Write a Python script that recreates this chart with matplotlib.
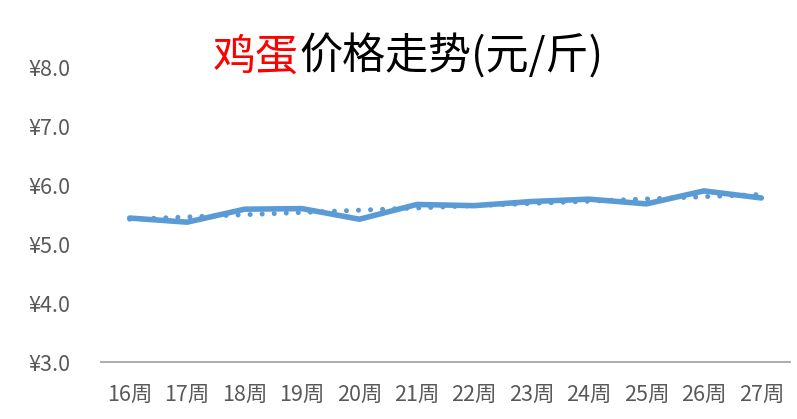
import matplotlib
matplotlib.use('Agg')
import matplotlib.pyplot as plt
from matplotlib import ticker

plt.rcParams['font.family'] = ['Noto Sans CJK SC', 'DejaVu Sans']

weeks = ['16周', '17周', '18周', '19周', '20周', '21周',
         '22周', '23周', '24周', '25周', '26周', '27周']
price = [5.44, 5.37, 5.59, 5.60, 5.42, 5.67, 5.65, 5.72, 5.76, 5.68, 5.90, 5.78]
# linear trendline, start / end values
trend = [5.42, 5.84]

blue = '#5B9BD5'
grey = '#595959'

fig = plt.figure(figsize=(7.97, 4.19), dpi=100)
ax = fig.add_axes([101 / 797, 1 - 362 / 419, 689 / 797, 295 / 419])

x = list(range(len(weeks)))
ax.plot([x[0], x[-1]], trend, color=blue, lw=3.6,
        linestyle=(0, (0.01, 2.4)), dash_capstyle='round')
ax.plot(x, price, color=blue, lw=4.0, solid_capstyle='round', solid_joinstyle='round')

ax.set_xlim(-0.5, len(weeks) - 0.5)
ax.set_ylim(3, 8)
ax.set_xticks(x)
ax.set_xticklabels(weeks)
ax.yaxis.set_major_locator(ticker.MultipleLocator(1))
ax.yaxis.set_major_formatter(ticker.FuncFormatter(lambda v, p: f'¥{v:.1f}'))

for s in ['top', 'right', 'left']:
    ax.spines[s].set_visible(False)
ax.spines['bottom'].set_color('#A6A6A6')
ax.spines['bottom'].set_linewidth(1.3)
ax.tick_params(axis='both', length=0, labelsize=15.5, labelcolor=grey)
ax.tick_params(axis='y', pad=22)
ax.tick_params(axis='x', pad=16)

t1 = fig.text(213 / 797, 1 - 58 / 419, '鸡蛋', color='red', fontsize=31,
              ha='left', va='center')
ax.annotate('价格走势(元/斤)', xy=(1, 0), xycoords=t1, color='black',
            fontsize=31, ha='left', va='bottom', annotation_clip=False)

fig.savefig('out.png', dpi=100)
